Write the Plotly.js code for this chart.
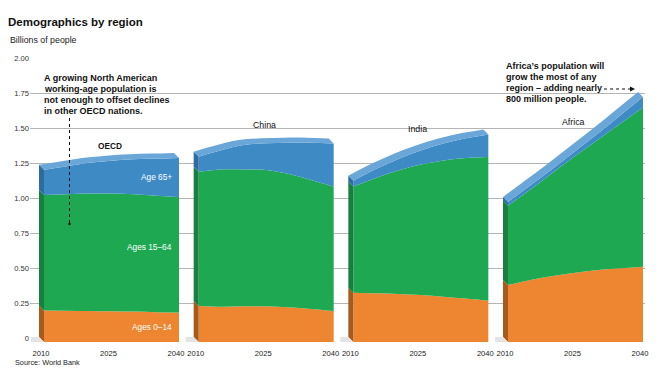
<!DOCTYPE html>
<html>
<head>
<meta charset="utf-8">
<script src="https://cdn.plot.ly/plotly-3.0.1.min.js"></script>
<style>html,body{margin:0;padding:0;background:#fff;}#chart{width:669px;height:379px;}</style>
</head>
<body>
<div id="chart"></div>
<script>
// ---------- DATA (billions of people) ----------
const years = [2010, 2015, 2020, 2025, 2030, 2035, 2040];
const regions = ['OECD', 'China', 'India', 'Africa'];
const tickYears = [2010, 2025, 2040];
const yTickVals = [0, 0.25, 0.5, 0.75, 1, 1.25, 1.5, 1.75, 2];
const yTickText = ['0', '0.25', '0.50', '0.75', '1.00', '1.25', '1.50', '1.75', '2.00'];

const oecd0_14   = [0.225, 0.224, 0.222, 0.220, 0.217, 0.213, 0.210];
const oecd15_64  = [0.825, 0.831, 0.838, 0.840, 0.838, 0.832, 0.825];
const oecd65     = [0.180, 0.200, 0.220, 0.235, 0.250, 0.265, 0.280];

const china0_14  = [0.257, 0.252, 0.255, 0.255, 0.248, 0.236, 0.221];
const china15_64 = [0.959, 0.981, 0.978, 0.974, 0.952, 0.921, 0.888];
const china65    = [0.108, 0.137, 0.174, 0.190, 0.224, 0.267, 0.308];

const india0_14  = [0.352, 0.348, 0.343, 0.336, 0.324, 0.310, 0.295];
const india15_64 = [0.758, 0.824, 0.882, 0.931, 0.973, 1.004, 1.026];
const india65    = [0.042, 0.063, 0.083, 0.101, 0.121, 0.141, 0.162];

const africa0_14  = [0.407, 0.443, 0.471, 0.495, 0.514, 0.526, 0.538];
const africa15_64 = [0.568, 0.647, 0.739, 0.835, 0.931, 1.034, 1.137];
const africa65    = [0.025, 0.030, 0.030, 0.035, 0.045, 0.060, 0.075];

const oecdNote = ['A growing North American', 'working-age population is', 'not enough to offset declines', 'in other OECD nations.'];
const africaNote = ['Africa\u2019s population will', 'grow the most of any', 'region \u2013 adding nearly', '800 million people.'];

// ---------- STYLE ----------
const FONT = '"Liberation Sans", Arial, Helvetica, sans-serif';
const C_OR = '#EE8530', C_GR = '#1DA851', C_BL = '#3E8AC5', C_TOP = '#6AA6D8';
const S_OR = '#A65A1C', S_GR = '#177F40', S_BL = '#2E6B9E';
const PANEL_STEP = 34.37;         // x units between panel starts
const DX = 1.11, DY = 0.0357;     // depth of the 3D extrusion (data units)
const L = 30, R = 645, T = 58, B = 342; // plot area in px
const px = v => (v - L) / (R - L);
const py = v => (B - v) / (B - T);
const X = (p, yr) => p * PANEL_STEP + (yr - 2010);

const series = [
  [oecd0_14, oecd15_64, oecd65],
  [china0_14, china15_64, china65],
  [india0_14, india15_64, india65],
  [africa0_14, africa15_64, africa65]
];

// invisible trace so the grid/label axis (x, y) subplot is created
const traces = [{x: [0], y: [0], xaxis: 'x', yaxis: 'y', mode: 'markers', marker: {opacity: 0, size: 1}, hoverinfo: 'skip', showlegend: false}];
const sideTraces = [];
const base = {xaxis: 'x', yaxis: 'y2', mode: 'lines', hoverinfo: 'skip', showlegend: false};
series.forEach((s, p) => {
  const [a, b, c] = s;
  const c1 = a.slice();
  const c2 = a.map((v, i) => v + b[i]);
  const c3 = c2.map((v, i) => v + c[i]);
  const xs = years.map(y => X(p, y));
  traces.push(Object.assign({}, base, {x: xs, y: c1, line: {width: 0, shape: 'spline', color: C_OR}, fill: 'tozeroy', fillcolor: C_OR}));
  traces.push(Object.assign({}, base, {x: xs, y: c2, line: {width: 0, shape: 'spline', color: C_GR}, fill: 'tonexty', fillcolor: C_GR}));
  traces.push(Object.assign({}, base, {x: xs, y: c3, line: {width: 0, shape: 'spline', color: C_BL}, fill: 'tonexty', fillcolor: C_BL}));
  traces.push(Object.assign({}, base, {x: xs.map(v => v - DX), y: c3.map(v => v + DY), line: {width: 0, shape: 'spline', color: C_TOP}, fill: 'tonexty', fillcolor: C_TOP}));
  const x0 = xs[0];
  [[0, c1[0], S_OR], [c1[0], c2[0], S_GR], [c2[0], c3[0], S_BL]].forEach(([lo, hi, col]) => {
    sideTraces.push(Object.assign({}, base, {
      x: [x0, x0, x0 - DX, x0 - DX, x0], y: [lo, hi, hi + DY, lo + DY, lo],
      line: {width: 0, color: col}, fill: 'toself', fillcolor: col
    }));
  });
  sideTraces.push(Object.assign({}, base, {
    x: [x0 - DX * 2.6, x0 - DX, x0, x0 - DX * 2.6, x0 - DX * 2.6], y: [DY, DY, 0, 0, DY],
    line: {width: 0, color: '#e4e4e4'}, fill: 'toself', fillcolor: '#e4e4e4'
  }));
});

const tickVals = [], tickText = [];
regions.forEach((r, p) => tickYears.forEach(y => { tickVals.push(X(p, y)); tickText.push(String(y)); }));

const annotations = [];
const txt = (text, x, y, opts) => annotations.push(Object.assign({
  text, x: px(x), y: py(y), xref: 'paper', yref: 'paper', showarrow: false,
  xanchor: 'left', yanchor: 'middle', font: {family: FONT, size: 9, color: '#111'}
}, opts || {}));

txt('Billions of people', 8, 40, {font: {family: FONT, size: 8.8, color: '#222'}});
txt('Source: World Bank', 13, 362, {font: {family: FONT, size: 7.3, color: '#222'}});
oecdNote.forEach((t, i) => txt('<b>' + t + '</b>', 42, 78 + i * 11.1, {font: {family: FONT, size: 9, color: '#111'}}));
africaNote.forEach((t, i) => txt('<b>' + t + '</b>', 504, 66 + i * 11.1, {font: {family: FONT, size: 9, color: '#111'}}));
const labelY = [146, 125, 129, 122];
const labelX = [110, 264, 417, 573];
regions.forEach((r, p) => txt(p === 0 ? '<b>' + r + '</b>' : r, labelX[p], labelY[p], {xanchor: 'center', font: {family: FONT, size: p === 0 ? 8.3 : 8.8, color: '#111'}}));
txt('Age 65+', 174, 177, {xanchor: 'right', font: {family: FONT, size: 8.3, color: '#fff'}});
txt('Ages 15\u201364', 174, 247, {xanchor: 'right', font: {family: FONT, size: 8.3, color: '#fff'}});
txt('Ages 0\u201314', 174, 327, {xanchor: 'right', font: {family: FONT, size: 8.3, color: '#fff'}});

const shapes = [
  {type: 'line', xref: 'paper', yref: 'paper', x0: px(69.5), x1: px(69.5), y0: py(118), y1: py(223), line: {color: '#111', width: 1, dash: 'dot'}},
  {type: 'circle', xref: 'paper', yref: 'paper', x0: px(68.3), x1: px(70.7), y0: py(222.8), y1: py(225.2), fillcolor: '#111', line: {width: 0}},
  {type: 'line', xref: 'paper', yref: 'paper', x0: px(604), x1: px(630), y0: py(89), y1: py(89), line: {color: '#111', width: 1, dash: 'dot'}},
  {type: 'path', xref: 'paper', yref: 'paper', path: `M ${px(630)} ${py(86.5)} L ${px(635)} ${py(89)} L ${px(630)} ${py(91.5)} Z`, fillcolor: '#111', line: {width: 0}}
];

const layout = {
  width: 669, height: 379,
  margin: {l: L, r: 669 - R, t: T, b: 379 - B},
  paper_bgcolor: '#fff', plot_bgcolor: 'rgba(0,0,0,0)',
  title: {text: '<b>Demographics by region</b>', x: 8 / 669, xanchor: 'left', xref: 'container', y: 1 - 22 / 379, yanchor: 'middle', yref: 'container', font: {family: FONT, size: 11.5, color: '#111'}},
  showlegend: false,
  xaxis: {range: [-14 / 4.5, (R - 44) / 4.5], anchor: 'y2', showgrid: false, zeroline: false, showline: false, ticks: '',
          tickmode: 'array', tickvals: tickVals, ticktext: tickText, ticklabelshift: -3, ticklabelstandoff: 5,
          tickfont: {family: FONT, size: 7.6, color: '#222'}, fixedrange: true},
  yaxis: {range: [0, 2], domain: [4 / (B - T), 1], anchor: 'x', showgrid: true, gridcolor: '#b5b5b5', gridwidth: 1,
          zeroline: false, showline: false, ticks: '', tickmode: 'array', tickvals: yTickVals, ticktext: yTickText,
          tickfont: {family: FONT, size: 7.6, color: '#333'}, ticklabelstandoff: 0, fixedrange: true},
  yaxis2: {range: [0, 2], domain: [0, 1 - 4 / (B - T)], anchor: 'x', visible: false, showgrid: false, zeroline: false, fixedrange: true},
  annotations, shapes
};

Plotly.newPlot('chart', traces.concat(sideTraces), layout, {staticPlot: true, displayModeBar: false});
</script>
</body>
</html>
